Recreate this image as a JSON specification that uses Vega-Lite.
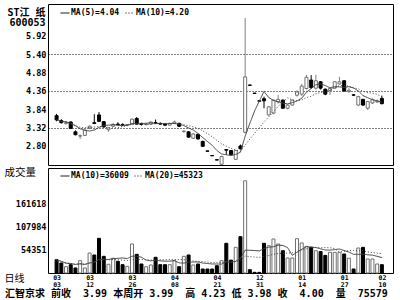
{
 "$schema": "https://vega.github.io/schema/vega-lite/v6.json",
 "autosize": "none",
 "padding": {"left": 48, "top": 4, "right": 352, "bottom": 296},
 "background": "white",
 "spacing": 0,
 "config": {
  "view": {"stroke": "black", "strokeWidth": 1},
  "axis": {"domain": false, "ticks": false, "grid": false, "labelOverlap": false, "labelColor": "black", "labelFont": "DejaVu Sans Mono", "labelFontWeight": "bold", "titleColor": "black"},
  "axisY": {"labelOverlap": false}
 },
 "resolve": {"scale": {"x": "independent", "y": "independent", "strokeDash": "independent"}},
 "datasets": {"k": [
  {"i":0,"o":3.66,"h":3.71,"l":3.50,"c":3.54,"v":31000},
  {"i":1,"o":3.52,"h":3.56,"l":3.44,"c":3.46,"v":23300},
  {"i":2,"o":3.44,"h":3.50,"l":3.40,"c":3.46,"v":14700},
  {"i":3,"o":3.48,"h":3.50,"l":3.28,"c":3.30,"v":19400},
  {"i":4,"o":3.20,"h":3.24,"l":3.10,"c":3.12,"v":11700},
  {"i":5,"o":3.08,"h":3.13,"l":3.00,"c":3.09,"v":28700},
  {"i":6,"o":3.10,"h":3.27,"l":3.08,"c":3.25,"v":11700},
  {"i":7,"o":3.31,"h":3.38,"l":3.28,"c":3.36,"v":46600},
  {"i":8,"o":3.46,"h":3.70,"l":3.42,"c":3.44,"v":42000},
  {"i":9,"o":3.68,"h":3.76,"l":3.48,"c":3.50,"v":80900},
  {"i":10,"o":3.49,"h":3.50,"l":3.32,"c":3.34,"v":38900},
  {"i":11,"o":3.26,"h":3.33,"l":3.20,"c":3.31,"v":20300},
  {"i":12,"o":3.36,"h":3.45,"l":3.34,"c":3.41,"v":34300},
  {"i":13,"o":3.42,"h":3.47,"l":3.38,"c":3.40,"v":27300},
  {"i":14,"o":3.41,"h":3.44,"l":3.37,"c":3.40,"v":19400},
  {"i":15,"o":3.39,"h":3.42,"l":3.36,"c":3.41,"v":15600},
  {"i":16,"o":3.42,"h":3.58,"l":3.40,"c":3.56,"v":67600},
  {"i":17,"o":3.58,"h":3.62,"l":3.40,"c":3.42,"v":43600},
  {"i":18,"o":3.43,"h":3.46,"l":3.38,"c":3.41,"v":21000},
  {"i":19,"o":3.41,"h":3.44,"l":3.38,"c":3.42,"v":14700},
  {"i":20,"o":3.42,"h":3.49,"l":3.40,"c":3.48,"v":18700},
  {"i":21,"o":3.46,"h":3.55,"l":3.42,"c":3.45,"v":36600},
  {"i":22,"o":3.44,"h":3.47,"l":3.40,"c":3.42,"v":19400},
  {"i":23,"o":3.42,"h":3.44,"l":3.37,"c":3.39,"v":19400},
  {"i":24,"o":3.39,"h":3.46,"l":3.38,"c":3.44,"v":19400},
  {"i":25,"o":3.44,"h":3.52,"l":3.42,"c":3.48,"v":28700},
  {"i":26,"o":3.44,"h":3.46,"l":3.34,"c":3.36,"v":14700},
  {"i":27,"o":3.21,"h":3.24,"l":3.17,"c":3.22,"v":38900},
  {"i":28,"o":3.20,"h":3.22,"l":3.04,"c":3.05,"v":42000},
  {"i":29,"o":3.02,"h":3.16,"l":3.00,"c":3.14,"v":18700},
  {"i":30,"o":3.13,"h":3.15,"l":2.98,"c":3.00,"v":21000},
  {"i":31,"o":2.93,"h":2.95,"l":2.78,"c":2.79,"v":9300},
  {"i":32,"o":2.66,"h":2.66,"l":2.65,"c":2.65,"v":9300},
  {"i":33,"o":2.53,"h":2.53,"l":2.52,"c":2.52,"v":9300},
  {"i":34,"o":2.41,"h":2.41,"l":2.40,"c":2.40,"v":17000},
  {"i":35,"o":2.28,"h":2.52,"l":2.26,"c":2.50,"v":28700},
  {"i":36,"o":2.70,"h":2.70,"l":2.55,"c":2.68,"v":69300},
  {"i":37,"o":2.67,"h":2.68,"l":2.53,"c":2.55,"v":30000},
  {"i":38,"o":2.42,"h":2.69,"l":2.40,"c":2.67,"v":59900},
  {"i":39,"o":2.80,"h":2.84,"l":2.70,"c":2.72,"v":84700},
  {"i":40,"o":3.19,"h":6.43,"l":3.15,"c":4.76,"v":215000},
  {"i":41,"o":4.53,"h":4.53,"l":4.52,"c":4.52,"v":7700},
  {"i":42,"o":4.30,"h":4.30,"l":4.29,"c":4.29,"v":1600},
  {"i":43,"o":4.08,"h":4.08,"l":4.07,"c":4.07,"v":1500},
  {"i":44,"o":4.14,"h":4.20,"l":3.87,"c":4.08,"v":69300},
  {"i":45,"o":3.68,"h":3.93,"l":3.66,"c":3.91,"v":63700},
  {"i":46,"o":3.73,"h":4.12,"l":3.70,"c":4.10,"v":79300},
  {"i":47,"o":4.05,"h":4.25,"l":4.00,"c":4.12,"v":67600},
  {"i":48,"o":4.10,"h":4.12,"l":3.85,"c":3.87,"v":52000},
  {"i":49,"o":3.87,"h":3.98,"l":3.84,"c":3.96,"v":35000},
  {"i":50,"o":3.96,"h":4.12,"l":3.94,"c":4.10,"v":35000},
  {"i":51,"o":4.24,"h":4.38,"l":4.20,"c":4.33,"v":80000},
  {"i":52,"o":4.27,"h":4.56,"l":4.22,"c":4.50,"v":70000},
  {"i":53,"o":4.43,"h":4.82,"l":4.40,"c":4.75,"v":62000},
  {"i":54,"o":4.67,"h":4.81,"l":4.42,"c":4.46,"v":60000},
  {"i":55,"o":4.44,"h":4.82,"l":4.40,"c":4.65,"v":52000},
  {"i":56,"o":4.62,"h":4.64,"l":4.40,"c":4.44,"v":50000},
  {"i":57,"o":4.41,"h":4.43,"l":4.24,"c":4.27,"v":41000},
  {"i":58,"o":4.37,"h":4.46,"l":4.25,"c":4.43,"v":48200},
  {"i":59,"o":4.44,"h":4.64,"l":4.42,"c":4.62,"v":48200},
  {"i":60,"o":4.56,"h":4.76,"l":4.54,"c":4.62,"v":48200},
  {"i":61,"o":4.65,"h":4.67,"l":4.34,"c":4.36,"v":44300},
  {"i":62,"o":4.34,"h":4.44,"l":4.31,"c":4.38,"v":34500},
  {"i":63,"o":4.25,"h":4.27,"l":4.22,"c":4.24,"v":9300},
  {"i":64,"o":3.96,"h":4.22,"l":3.94,"c":4.20,"v":58300},
  {"i":65,"o":4.12,"h":4.14,"l":3.94,"c":3.96,"v":59900},
  {"i":66,"o":3.87,"h":4.08,"l":3.82,"c":4.06,"v":32600},
  {"i":67,"o":4.02,"h":4.15,"l":3.99,"c":4.11,"v":32600},
  {"i":68,"o":4.05,"h":4.12,"l":4.02,"c":4.07,"v":21000},
  {"i":69,"o":4.15,"h":4.23,"l":3.98,"c":4.00,"v":19400}
 ]},
 "vconcat": [
  {
   "width": 345, "height": 161,
   "data": {"name": "k"},
   "resolve": {"axis": {"y": "independent"}},
   "layer": [
    {
     "mark": {"type": "rule", "strokeWidth": 1},
     "encoding": {
      "x": {"field": "i", "type": "quantitative", "scale": {"domain": [-0.76, 70.3], "nice": false, "zero": false}, "axis": null},
      "y": {"field": "l", "type": "quantitative",
       "scale": {"domain": [2.26, 6.827], "nice": false, "zero": false},
       "axis": {"orient": "left", "values": [2.80, 3.32, 3.84, 4.36, 4.88, 5.40, 5.92], "format": ".2f", "labelFontSize": 8.5, "labelPadding": 2, "labelOverlap": false,
        "grid": true, "gridColor": "black", "gridDash": [1, 2], "gridWidth": 1,
        "gridOpacity": {"condition": {"test": "datum.value == 3.32 || datum.value == 4.36 || datum.value == 5.4", "value": 1}, "value": 0},
        "title": ["ST江  纸", "600053"], "titleAngle": 0, "titleAlign": "right", "titleBaseline": "top", "titleX": -3, "titleY": 3,
        "titleFont": "DejaVu Sans Mono, Noto Sans CJK SC", "titleFontSize": 10, "titleFontWeight": "bold", "titleLineHeight": 10}},
      "y2": {"field": "h"},
      "color": {"condition": {"test": "datum.c >= datum.o", "value": "#808080"}, "value": "black"}
     }
    },
    {
     "mark": {"type": "bar", "size": 3, "strokeWidth": 1},
     "encoding": {
      "x": {"field": "i", "type": "quantitative", "axis": null},
      "y": {"field": "o", "type": "quantitative", "axis": {"orient": "left", "labels": false, "title": null, "grid": false}},
      "y2": {"field": "c"},
      "fill": {"condition": {"test": "datum.c >= datum.o", "value": "white"}, "value": "black"},
      "stroke": {"condition": {"test": "datum.c >= datum.o", "value": "#707070"}, "value": "black"}
     }
    },
    {
     "transform": [
      {"window": [{"op": "mean", "field": "c", "as": "ma5"}], "frame": [-4, 0], "sort": [{"field": "i"}]},
      {"window": [{"op": "mean", "field": "c", "as": "ma10"}], "frame": [-9, 0], "sort": [{"field": "i"}]},
      {"fold": ["ma5", "ma10"], "as": ["s", "m"]}
     ],
     "mark": {"type": "line", "strokeWidth": 1, "color": "#404040"},
     "encoding": {
      "x": {"field": "i", "type": "quantitative", "axis": null},
      "y": {"field": "m", "type": "quantitative", "axis": {"orient": "left", "labels": false, "title": null, "grid": false}},
      "strokeDash": {"field": "s", "type": "nominal",
       "scale": {"domain": ["ma5", "ma10"], "range": [[1, 0], [1, 2]]},
       "legend": {"title": null, "orient": "none", "legendX": 12, "legendY": 4, "direction": "horizontal",
        "symbolType": "stroke", "symbolSize": 81, "symbolStrokeWidth": 1, "symbolStrokeColor": "black",
        "labelFont": "DejaVu Sans Mono", "labelFontWeight": "bold", "labelFontSize": 8, "labelColor": "black",
        "labelOffset": 1, "columnPadding": 3, "padding": 0,
        "labelExpr": "datum.label == 'ma5' ? 'MA(5)=4.04' : 'MA(10)=4.20'"}}
     }
    }
   ]
  },
  {
   "width": 345, "height": 105,
   "data": {"name": "k"},
   "title": {"text": "汇智京求 前收\u00a0\u00a03.99 本周开 3.99\u00a0\u00a0高 4.23 低 3.98 收\u00a0\u00a04.00\u00a0\u00a0量\u00a0\u00a075579",
    "orient": "bottom", "anchor": "start", "frame": "group", "dx": -43, "offset": 1,
    "font": "DejaVu Sans Mono, Noto Sans CJK SC", "fontSize": 10, "fontWeight": "bold", "color": "black", "baseline": "top"},
   "resolve": {"axis": {"x": "independent", "y": "independent"}},
   "layer": [
    {
     "mark": {"type": "bar", "size": 3, "strokeWidth": 1},
     "encoding": {
      "x": {"field": "i", "type": "quantitative", "scale": {"domain": [-0.76, 70.3], "nice": false, "zero": false},
       "axis": {"orient": "bottom", "values": [0, 7, 16, 25, 34, 43, 52, 61, 69], "labelFontSize": 6.5, "labelPadding": 1,
        "labelFlush": false, "labelOverlap": false,
        "labelExpr": "datum.value < 25 ? '03' : datum.value < 40 ? '04' : datum.value < 50 ? '12' : datum.value < 65 ? '01' : '02'",
        "title": "日线", "titleAngle": 0, "titleAlign": "left", "titleBaseline": "top", "titleX": -44, "titleY": 0,
        "titleFont": "Noto Sans CJK SC", "titleFontSize": 10, "titleFontWeight": "normal"}},
      "y": {"field": "v", "type": "quantitative", "scale": {"domain": [0, 244860], "nice": false, "zero": false},
       "axis": {"orient": "left", "values": [54351, 107984, 161618], "format": "d", "labelFontSize": 8.5, "labelPadding": 2, "labelOverlap": false,
        "title": "成交量", "titleAngle": 0, "titleAlign": "left", "titleBaseline": "alphabetic", "titleX": -44, "titleY": 7,
        "titleFont": "Noto Sans CJK SC", "titleFontSize": 10.5, "titleFontWeight": "normal"}},
      "fill": {"condition": {"test": "datum.c >= datum.o", "value": "white"}, "value": "black"},
      "stroke": {"condition": {"test": "datum.c >= datum.o", "value": "#707070"}, "value": "black"}
     }
    },
    {
     "transform": [
      {"window": [{"op": "mean", "field": "v", "as": "ma10"}], "frame": [-9, 0], "sort": [{"field": "i"}]},
      {"window": [{"op": "mean", "field": "v", "as": "ma20"}], "frame": [-19, 0], "sort": [{"field": "i"}]},
      {"fold": ["ma10", "ma20"], "as": ["t", "m"]}
     ],
     "mark": {"type": "line", "strokeWidth": 1, "color": "#404040"},
     "encoding": {
      "x": {"field": "i", "type": "quantitative",
       "axis": {"orient": "bottom", "offset": 7, "values": [0, 7, 16, 25, 34, 43, 52, 61, 69], "labelFontSize": 6.5, "labelPadding": 1,
        "labelFlush": false, "labelOverlap": false, "title": null,
        "labelExpr": "datum.value == 0 ? '03' : datum.value == 7 ? '12' : datum.value == 16 ? '26' : datum.value == 25 ? '08' : datum.value == 34 ? '21' : datum.value == 43 ? '31' : datum.value == 52 ? '14' : datum.value == 61 ? '27' : '10'"}},
      "y": {"field": "m", "type": "quantitative", "axis": {"orient": "left", "labels": false, "title": null, "grid": false}},
      "strokeDash": {"field": "t", "type": "nominal",
       "scale": {"domain": ["ma10", "ma20"], "range": [[1, 0], [1, 2]]},
       "legend": {"title": null, "orient": "none", "legendX": 12, "legendY": 3, "direction": "horizontal",
        "symbolType": "stroke", "symbolSize": 81, "symbolStrokeWidth": 1, "symbolStrokeColor": "black",
        "labelFont": "DejaVu Sans Mono", "labelFontWeight": "bold", "labelFontSize": 8, "labelColor": "black",
        "labelOffset": 1, "columnPadding": 3, "padding": 0,
        "labelExpr": "datum.label == 'ma10' ? 'MA(10)=36009' : 'MA(20)=45323'"}}
     }
    }
   ]
  }
 ]
}
